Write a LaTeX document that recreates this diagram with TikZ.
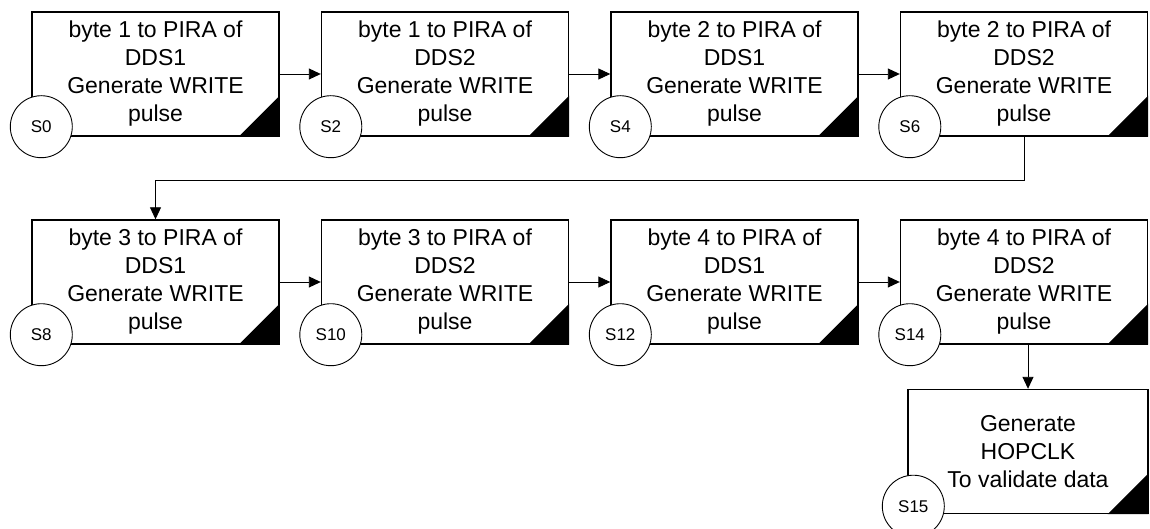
\documentclass[tikz,border=0pt]{standalone}
\usepackage{fontspec}
\setmainfont{Liberation Sans}
\usetikzlibrary{arrows.meta,calc}
\begin{document}
\begin{tikzpicture}[x=1pt,y=-1pt,
  stbox/.style={draw,line width=1.4pt,rectangle,minimum width=247pt,minimum height=124pt,
    inner sep=0pt,align=center,font=\fontsize{23}{28}\selectfont},
  stcirc/.style={draw,line width=0.9pt,circle,fill=white,minimum size=62pt,inner sep=0pt,
    font=\fontsize{17}{20}\selectfont},
  conn/.style={line width=0.9pt,-{Triangle[length=12pt,width=11pt]}},
  corner/.style={fill=black}]
\useasboundingbox (0,0) rectangle (1150,529);
% row 1
\node[stbox] (b1) at (155.5,74) {byte 1 to PIRA of\\DDS1\\Generate WRITE\\pulse};
\node[stbox] (b2) at (445,74) {byte 1 to PIRA of\\DDS2\\Generate WRITE\\pulse};
\node[stbox] (b3) at (734.5,74) {byte 2 to PIRA of\\DDS1\\Generate WRITE\\pulse};
\node[stbox] (b4) at (1024,74) {byte 2 to PIRA of\\DDS2\\Generate WRITE\\pulse};
% row 2
\node[stbox] (b5) at (155.5,282) {byte 3 to PIRA of\\DDS1\\Generate WRITE\\pulse};
\node[stbox] (b6) at (445,282) {byte 3 to PIRA of\\DDS2\\Generate WRITE\\pulse};
\node[stbox] (b7) at (734.5,282) {byte 4 to PIRA of\\DDS1\\Generate WRITE\\pulse};
\node[stbox] (b8) at (1024,282) {byte 4 to PIRA of\\DDS2\\Generate WRITE\\pulse};
% row 3
\node[stbox,minimum width=240pt] (b9) at (1028,451.5) {Generate\\HOPCLK\\To validate data};
% corner triangles
\foreach \b in {b1,b2,b3,b4,b5,b6,b7,b8,b9}{
  \fill[corner] (\b.south east) -- ++(-41,0) -- ++(41,-41) -- cycle;
}
% connectors
\draw[conn] (b1.east) -- (b2.west);
\draw[conn] (b2.east) -- (b3.west);
\draw[conn] (b3.east) -- (b4.west);
\coordinate (t1) at ($(b4.south)+(0,44)$);
\draw[conn] (b4.south) -- (t1) -- (t1 -| b5.north) -- (b5.north);
\draw[conn] (b5.east) -- (b6.west);
\draw[conn] (b6.east) -- (b7.west);
\draw[conn] (b7.east) -- (b8.west);
\draw[conn] (b9.north |- b8.south) -- (b9.north);
% state circles
\node[stcirc] (s0) at ($(b1.south west)+(10,-10)$) {S0};
\node[stcirc] (s2) at ($(b2.south west)+(10,-10)$) {S2};
\node[stcirc] (s4) at ($(b3.south west)+(10,-10)$) {S4};
\node[stcirc] (s6) at ($(b4.south west)+(10,-10)$) {S6};
\node[stcirc] (s8) at ($(b5.south west)+(10,-10)$) {S8};
\node[stcirc] (s10) at ($(b6.south west)+(10,-10)$) {S10};
\node[stcirc] (s12) at ($(b7.south west)+(10,-10)$) {S12};
\node[stcirc] (s14) at ($(b8.south west)+(10,-10)$) {S14};
\node[stcirc] (s15) at ($(b9.south west)+(6,-8)$) {S15};
\end{tikzpicture}
\end{document}
